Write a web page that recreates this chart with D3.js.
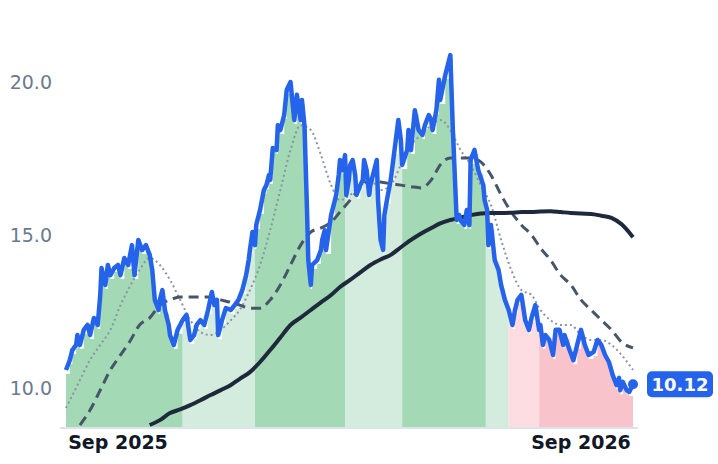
<!DOCTYPE html>
<html><head><meta charset="utf-8">
<script src="https://cdn.jsdelivr.net/npm/d3@7"></script>
<style>body{margin:0;background:#fff}svg{font-family:"DejaVu Sans",sans-serif}</style>
</head><body><svg id="c" width="718" height="464"></svg>
<script>
const startDate = "2025-07-22";
const priceDays = [0,3,5,8,9,11,14,17,19,22,25,27,28,31,33,35,38,41,43,46,49,52,54,57,60,63,66,68,70,73,74,76,78,81,82,85,88,92,95,98,101,103,106,109,112,115,117,119,120,123,126,130,133,136,139,142,144,145,147,149,150,153,156,158,160,161,163,166,167,169,172,174,177,179,180,182,185,186,188,190,191,193,194,198,201,202,204,205,209,212,213,215,216,218,220,221,223,224,226,228,229,232,234,235,237,239,240,242,245,246,248,250,251,253,256,259,262,264,265,269,270,272,275,278,281,283,286,288,289,292,294,295,299,302,303,305,307,308,310,311,314,316,318,319,322,325,329,330,332,333,335,338,341,343,346,349,352,354,356,359,362,365,367,370,373,374,376,378,381,384,386,389,392,393,397,400,403,406,409,412,416,419,422,425,428,431,434,436,437,439,442,444,447];
const price = [10.59,10.91,11.24,11.41,11.73,11.41,11.90,12.06,11.73,12.29,12.06,13.04,13.92,13.37,14.02,13.69,13.92,14.02,13.69,14.25,14.02,14.67,13.69,14.84,14.51,14.67,14.35,13.86,12.88,12.55,12.88,13.20,12.55,12.06,11.73,11.41,11.90,12.22,12.39,11.57,11.73,12.06,12.22,12.06,12.55,13.14,12.71,12.88,11.73,12.22,12.61,12.55,12.71,12.88,13.20,13.69,14.18,14.51,15.10,14.67,15.33,15.82,16.47,16.63,16.96,16.80,17.84,17.78,18.59,18.43,18.92,19.74,20.00,19.15,18.76,19.58,18.76,19.41,18.59,15.82,14.18,13.37,14.02,14.18,14.51,14.84,15.16,14.51,15.65,16.14,16.31,16.96,17.45,17.12,17.61,16.31,16.80,17.29,17.45,16.96,16.31,16.63,16.80,17.45,17.12,16.31,16.63,16.96,17.45,16.14,14.84,14.51,15.65,16.14,16.80,17.78,18.76,18.10,17.29,17.78,18.43,17.78,19.08,18.43,18.27,18.59,18.92,18.76,18.43,19.08,20.07,19.41,20.23,20.72,20.88,18.43,16.47,15.49,15.65,15.49,15.33,15.82,15.33,17.45,17.78,17.12,16.63,16.14,15.82,14.67,15.33,14.18,13.86,13.37,12.88,12.55,12.06,12.55,12.88,13.04,12.22,11.90,12.29,12.71,11.90,12.06,11.41,11.73,11.57,11.08,11.90,11.90,11.41,11.73,11.24,10.91,11.41,11.90,11.41,11.08,11.18,11.57,11.41,11.08,10.85,10.42,10.10,10.33,9.93,10.20,9.93,9.87,10.12];
const maDays = [0,11,19,27,35,43,51,58,66,74,82,90,98,106,114,122,130,137,145,153,161,169,177,185,193,201,209,216,224,232,240,248,256,264,272,280,288,295,303,311,319,327,335,343,351,359,367,374,382,390,398,406,414,422,430,438,447];
const maShort = [9.35,10.26,10.92,11.41,11.90,12.71,13.37,13.86,14.25,14.02,13.53,12.88,12.22,11.83,11.73,11.90,12.22,12.55,13.20,14.02,15.16,16.47,17.78,18.59,18.43,17.61,16.63,16.14,16.31,16.63,16.80,16.47,16.63,17.29,17.94,18.27,18.59,18.76,18.43,17.78,17.29,16.63,15.98,14.84,13.86,13.20,13.04,12.55,12.22,12.06,12.06,11.73,11.57,11.57,11.41,11.08,10.59];
const maMid = [null,8.79,9.28,9.93,10.59,11.08,11.57,12.06,12.29,12.71,12.88,12.97,12.97,12.97,12.97,12.88,12.80,12.71,12.61,12.61,12.88,13.37,14.02,14.67,15.10,15.23,15.42,15.75,16.14,16.54,16.80,16.73,16.68,16.63,16.58,16.54,16.80,17.29,17.52,17.52,17.52,17.39,16.96,16.31,15.75,15.33,15.00,14.58,14.18,13.69,13.37,12.88,12.55,12.22,11.90,11.50,11.31];
const maLong = [null,null,null,null,null,null,null,null,8.79,8.95,9.18,9.30,9.44,9.60,9.77,9.93,10.10,10.30,10.52,10.85,11.24,11.65,12.06,12.30,12.55,12.80,13.04,13.30,13.53,13.78,14.02,14.20,14.35,14.60,14.84,15.05,15.23,15.38,15.49,15.57,15.65,15.70,15.72,15.72,15.73,15.75,15.75,15.77,15.78,15.75,15.72,15.70,15.69,15.63,15.56,15.35,14.93];
const bandEnds = [92,149,220,265,331,349,373,447];
const bandColors = ["#a3d9b5","#d3ecdd","#a3d9b5","#d3ecdd","#a3d9b5","#d3ecdd","#fddde2","#f9c3cc"];
const yTicks = [10,15,20];
const xTicks = ["2025-09-01","2026-09-01"];
const lastLabel = "10.12";

const svg = d3.select("#c");
const t0 = d3.isoParse(startDate);
const day = d => d3.timeDay.offset(t0, d);
const x = d3.scaleTime().domain([day(0), day(447)]).range([66, 633]);
const y = d3.scaleLinear().domain([8.693, 22.68]).range([428, 0]);

const pts = priceDays.map((d,i)=>({t:day(d), v:price[i]}));
svg.append("clipPath").attr("id","pc").append("rect").attr("x",0).attr("y",0).attr("width",718).attr("height",428);
const g = svg.append("g").attr("clip-path","url(#pc)");

const areaGen = d3.area().x(d=>x(d.t)).y0(428).y1(d=>y(d.v)+4).curve(d3.curveStepAfter);
svg.append("clipPath").attr("id","ac").append("path").attr("d", areaGen(pts));
const bg = g.append("g").attr("clip-path","url(#ac)");
let prev = 0;
bandEnds.forEach((e,i)=>{
  bg.append("rect").attr("x",x(day(prev))).attr("width",x(day(e))-x(day(prev))).attr("y",0).attr("height",428).attr("fill",bandColors[i]);
  prev = e;
});

const maLine = arr => d3.line().defined(d=>d.v!=null).x(d=>x(d.t)).y(d=>y(d.v)).curve(d3.curveMonotoneX)(maDays.map((d,i)=>({t:day(d), v:arr[i]})));
g.append("path").attr("d",maLine(maShort)).attr("fill","none").attr("stroke","#8b93a3").attr("stroke-width",2).attr("stroke-dasharray","2,3");
g.append("path").attr("d",maLine(maMid)).attr("fill","none").attr("stroke","#475569").attr("stroke-width",3).attr("stroke-dasharray","10,6");
g.append("path").attr("d",maLine(maLong)).attr("fill","none").attr("stroke","#1e293b").attr("stroke-width",4);
g.append("path").attr("d",d3.line().x(d=>x(d.t)).y(d=>y(d.v))(pts)).attr("fill","none").attr("stroke","#2563eb").attr("stroke-width",4.5).attr("stroke-linejoin","round");

svg.append("line").attr("x1",60).attr("x2",638).attr("y1",428).attr("y2",428).attr("stroke","#dde3ea").attr("stroke-width",2);
svg.selectAll(".yt").data(yTicks).enter().append("text").attr("x",52).attr("y",d=>y(d)).attr("dy","0.36em").attr("text-anchor","end").attr("font-size",19).attr("fill","#6b7a90").text(d=>d.toFixed(1));
const fmt = d3.timeFormat("%b %Y");
svg.selectAll(".xt").data(xTicks).enter().append("text").attr("x",d=>x(d3.isoParse(d))).attr("y",449).attr("text-anchor","middle").attr("font-size",19).attr("font-weight","bold").attr("fill","#111827").text(d=>fmt(d3.isoParse(d)));

const lv = +lastLabel;
svg.append("circle").attr("cx",633).attr("cy",y(lv)).attr("r",5).attr("fill","#2563eb");
svg.append("rect").attr("x",647).attr("y",y(lv)-13).attr("width",66).attr("height",26).attr("rx",5).attr("fill","#2563eb");
svg.append("text").attr("x",680).attr("y",y(lv)).attr("dy","0.36em").attr("text-anchor","middle").attr("font-size",18).attr("font-weight","bold").attr("fill","#fff").text(lastLabel);
</script></body></html>
